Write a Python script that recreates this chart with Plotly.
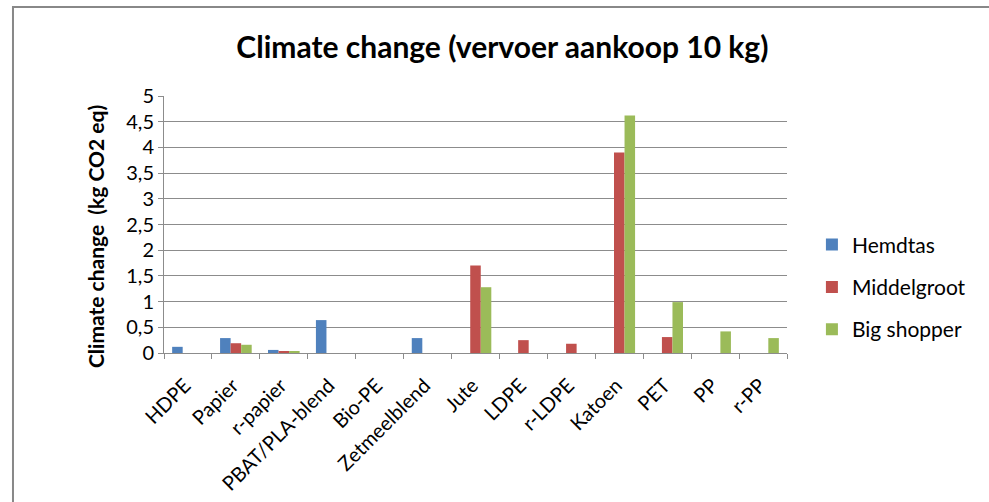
import plotly.graph_objects as go

categories = ["HDPE", "Papier", "r-papier", "PBAT/PLA-blend", "Bio-PE", "Zetmeelblend",
              "Jute", "LDPE", "r-LDPE", "Katoen", "PET", "PP", "r-PP"]
hemdtas = [0.12, 0.29, 0.06, 0.64, None, 0.29, None, None, None, None, None, None, None]
middelgroot = [None, 0.19, 0.035, None, None, None, 1.70, 0.25, 0.18, 3.90, 0.31, None, None]
big_shopper = [None, 0.16, 0.03, None, None, None, 1.28, None, None, 4.62, 0.99, 0.42, 0.29]
series_names = ["Hemdtas", "Middelgroot", "Big shopper"]
colors = ["#4F81BD", "#C0504D", "#9BBB59"]
y_ticks = [0, 0.5, 1, 1.5, 2, 2.5, 3, 3.5, 4, 4.5, 5]

font = "Lato"
fig = go.Figure()
for name, vals, col in zip(series_names, [hemdtas, middelgroot, big_shopper], colors):
    fig.add_trace(go.Bar(x=categories, y=vals, name=name, marker_color=col,
                         marker_line_width=0, legendgroup=name))

fig.update_layout(
    width=989, height=502,
    paper_bgcolor="white", plot_bgcolor="white",
    separators=",.",
    margin=dict(l=164, r=202, t=96, b=149, autoexpand=False),
    title=dict(text="<b>Climate change (vervoer aankoop 10 kg)</b>", x=0.508, xanchor="center",
               y=0.906, yanchor="middle", font=dict(family=font, size=30, color="black")),
    barmode="group", bargap=0.34, bargroupgap=0,
    legend=dict(x=1.040, y=0.257, xanchor="left", yanchor="middle",
                font=dict(family=font, size=21, color="black"), tracegroupgap=12,
                itemwidth=30),
    font=dict(family=font, color="black"),
)
fig.update_yaxes(range=[0, 5], tickvals=y_ticks, showgrid=True, gridcolor="#8c8c8c", gridwidth=1,
                 showline=True, linecolor="#8c8c8c", ticks="outside", ticklen=5, tickcolor="#8c8c8c",
                 tickfont=dict(family=font, size=20), zeroline=False, automargin=False)
fig.update_xaxes(showline=True, linecolor="#8c8c8c", ticks="outside", tickson="boundaries",
                 ticklen=5, tickcolor="#8c8c8c", tickangle=-45,
                 ticklabelstandoff=12, ticklabelshift=-3, automargin=False,
                 tickfont=dict(family=font, size=20))
fig.add_annotation(text="<b>Climate change  (kg CO2 eq)</b>", textangle=-90,
                   xref="paper", yref="paper", x=-0.1108, y=0.455, showarrow=False,
                   xanchor="center", yanchor="middle", font=dict(family=font, size=21, color="black"))
fig.add_shape(type="rect", xref="paper", yref="paper", x0=-0.2424, x1=1.6, y0=-1.0, y1=1.3463,
              line=dict(color="#888888", width=2), fillcolor="rgba(0,0,0,0)")
fig.write_html("out.html", post_script="document.body.style.margin='0';",
               config={"displayModeBar": False})
